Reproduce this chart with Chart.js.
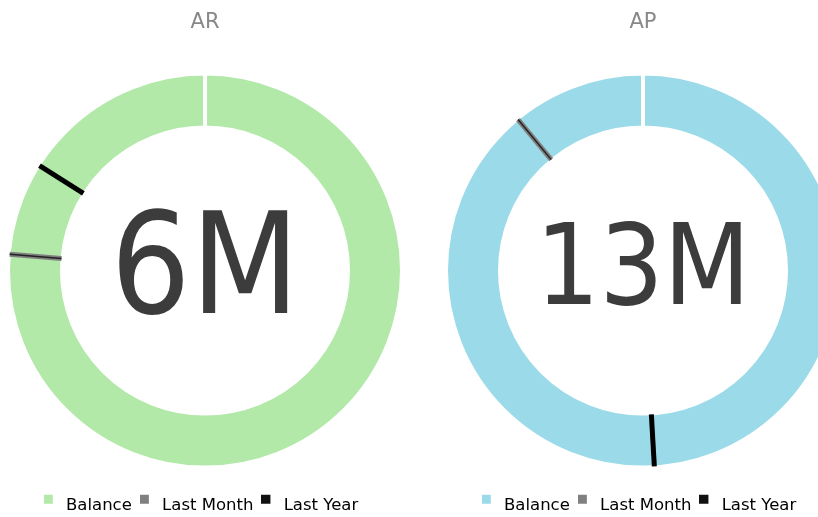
<!DOCTYPE html>
<html>
<head>
<meta charset="utf-8">
<script src="https://cdn.jsdelivr.net/npm/chart.js@4"></script>
<style>
  html, body { margin: 0; padding: 0; background: #fff; }
  body { width: 818px; height: 517px; overflow: hidden; position: relative; }
  .box { position: absolute; top: 0; width: 410px; height: 524px; }
  #box-ar { left: 0; }
  #box-ap { left: 438px; }
</style>
</head>
<body>
<div class="box" id="box-ar"><canvas id="chart-ar"></canvas></div>
<div class="box" id="box-ap"><canvas id="chart-ap"></canvas></div>
<script>
// data (millions)
var titles = ["AR", "AP"];
var balance = [6, 13];
var lastMonth = [4.58, 11.57];
var lastYear = [5.04, 6.38];
var legendLabels = ["Balance", "Last Month", "Last Year"];

var FONT = "'DejaVu Sans', Verdana, sans-serif";
var BIG_FONT = "'DejaVu Sans Condensed', 'DejaVu Sans', sans-serif";
var balanceColors = ["#b2e8a8", "#9bdae8"];
var centerSizes = [140, 112];

// legend squares: drawn left of the box and a bit above the text line
function legendSquare(color) {
    var c = document.createElement("canvas");
    c.width = 22;
    c.height = 26;
    var g = c.getContext("2d");
    g.fillStyle = color;
    g.fillRect(0, 2, 9, 9);
    return c;
}

// markers + center label
var gaugePlugin = {
    id: "gauge",
    afterDatasetsDraw: function (chart) {
        var arc = chart.getDatasetMeta(0).data[0];
        var o = chart.options.plugins.gauge;
        var ctx = chart.ctx;
        var span = arc.endAngle - arc.startAngle;
        var r0 = arc.innerRadius + 1, r1 = arc.outerRadius - 1;

        function ray(v, color, w) {
            var a = arc.startAngle + span * v / o.total;
            ctx.beginPath();
            ctx.moveTo(arc.x + Math.cos(a) * r0, arc.y + Math.sin(a) * r0);
            ctx.lineTo(arc.x + Math.cos(a) * r1, arc.y + Math.sin(a) * r1);
            ctx.strokeStyle = color;
            ctx.lineWidth = w;
            ctx.stroke();
        }

        ctx.save();
        ctx.lineCap = "butt";
        ray(o.lastMonth, "#808080", 5);
        ray(o.lastMonth, "#222", 1.5);
        ray(o.lastYear, "#000", 5);

        ctx.fillStyle = "#3c3c3c";
        ctx.font = o.size + "px " + BIG_FONT;
        ctx.textAlign = "center";
        ctx.textBaseline = "alphabetic";
        ctx.fillText(o.label, arc.x, arc.y + o.size * 0.3);
        ctx.restore();
    }
};

function makeChart(id, i) {
    var ctx = document.getElementById(id).getContext("2d");
    var squares = [legendSquare(balanceColors[i]), legendSquare("#808080"), legendSquare("#111")];
    return new Chart(ctx, {
        type: "doughnut",
        plugins: [gaugePlugin],
        data: {
            labels: [legendLabels[0]],
            datasets: [{
                data: [balance[i]],
                backgroundColor: [balanceColors[i]],
                borderColor: "#fff",
                borderWidth: 4
            }]
        },
        options: {
            responsive: true,
            maintainAspectRatio: false,
            animation: false,
            radius: 197,
            cutout: "72.6%",
            events: [],
            plugins: {
                tooltip: { enabled: false },
                title: {
                    display: true,
                    text: titles[i],
                    color: "#888",
                    font: { family: FONT, size: 21, weight: "normal" },
                    padding: { top: 10, bottom: 24.5 }
                },
                legend: {
                    position: "bottom",
                    labels: {
                        usePointStyle: true,
                        boxWidth: 6,
                        boxHeight: 16,
                        padding: 16,
                        color: "#444",
                        font: { family: FONT, size: 16.5 },
                        generateLabels: function () {
                            return legendLabels.map(function (t, k) {
                                return { text: t, pointStyle: squares[k], fillStyle: "#000", lineWidth: 0, hidden: false, index: k };
                            });
                        }
                    }
                },
                gauge: {
                    total: balance[i],
                    lastMonth: lastMonth[i],
                    lastYear: lastYear[i],
                    label: balance[i] + "M",
                    size: centerSizes[i]
                }
            }
        }
    });
}

makeChart("chart-ar", 0);
makeChart("chart-ap", 1);
</script>
</body>
</html>
